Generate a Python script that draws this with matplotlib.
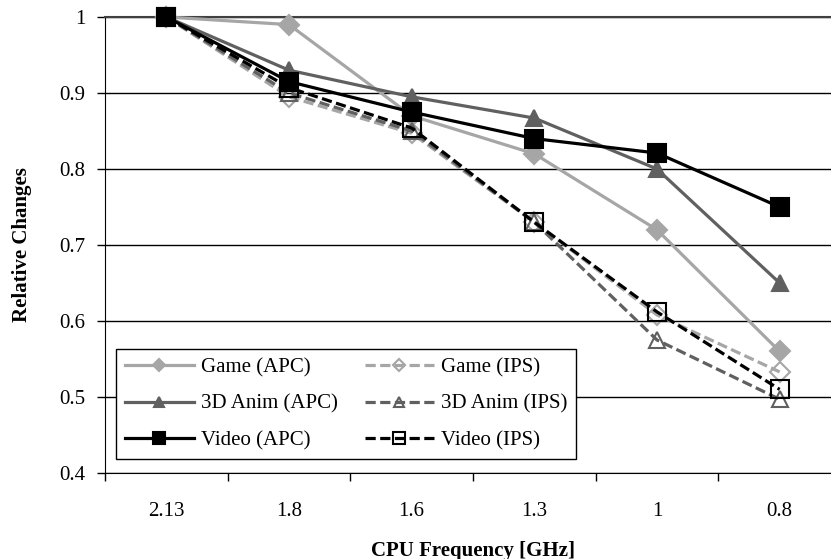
import matplotlib
matplotlib.use('Agg')
import matplotlib.pyplot as plt
import numpy as np

plt.rcParams['font.family'] = ['Liberation Serif', 'DejaVu Serif']

# CPU frequency steps (categorical x axis)
freqs = ['2.13', '1.8', '1.6', '1.3', '1', '0.8']

game_apc = [1.0, 0.99, 0.87, 0.82, 0.72, 0.56]
anim_apc = [1.0, 0.93, 0.895, 0.867, 0.80, 0.65]
video_apc = [1.0, 0.915, 0.875, 0.84, 0.821, 0.75]
game_ips = [1.0, 0.895, 0.847, 0.73, 0.608, 0.533]
anim_ips = [1.0, 0.90, 0.85, 0.73, 0.575, 0.497]
video_ips = [1.0, 0.907, 0.854, 0.73, 0.612, 0.51]

light = '#a6a6a6'
dark = '#606060'
black = '#000000'

fig = plt.figure(figsize=(8.31, 5.59), dpi=100)
ax = fig.add_axes([105 / 831, 86 / 559, 736 / 831, 456 / 559])

x = np.arange(len(freqs))
dash = (3.2, 1.4)

series = [
	(game_apc, 'Game (APC)', light, '-', 'D', 10, light),
	(game_ips, 'Game (IPS)', light, '--', 'D', 10, 'none'),
	(anim_apc, '3D Anim (APC)', dark, '-', '^', 12, dark),
	(anim_ips, '3D Anim (IPS)', dark, '--', '^', 12, 'none'),
	(video_apc, 'Video (APC)', black, '-', 's', 13, black),
	(video_ips, 'Video (IPS)', black, '--', 's', 13, 'none'),
]
handles = {}
for i, (vals, name, col, ls, mk, ms, fc) in enumerate(series):
	line, = ax.plot(x, vals, color=col, lw=2.3, marker=mk, markersize=ms,
					markerfacecolor=fc, markeredgecolor=col, markeredgewidth=1.5,
					clip_on=False, zorder=3 + i)
	if ls == '--':
		line.set_dashes(dash)
	handles[name] = line

ax.set_xlim(-0.5, 5.5)
ax.set_ylim(0.4, 1.0)
ax.set_yticks(np.arange(0.4, 1.01, 0.1))
ax.set_yticklabels(['0.4', '0.5', '0.6', '0.7', '0.8', '0.9', '1'])
ax.set_xticks(x)
ax.set_xticklabels(freqs)
ax.set_xticks(np.arange(-0.5, 5.6, 1), minor=True)
ax.tick_params(axis='x', which='major', length=0, pad=21, labelsize=15)
ax.tick_params(axis='x', which='minor', length=6, width=1, direction='out')
ax.tick_params(axis='y', length=6, width=1, direction='out', pad=8, labelsize=15)

ax.yaxis.grid(True, color='black', lw=1)
ax.set_axisbelow(True)
ax.spines['right'].set_visible(False)
ax.spines['top'].set_color('#404040')
ax.spines['top'].set_linewidth(1.5)

ax.set_xlabel('CPU Frequency [GHz]', fontsize=15, fontweight='bold', labelpad=14)
ax.set_ylabel('Relative Changes', fontsize=15, fontweight='bold', labelpad=20)

order = ['Game (APC)', '3D Anim (APC)', 'Video (APC)', 'Game (IPS)', '3D Anim (IPS)', 'Video (IPS)']
leg = ax.legend([handles[n] for n in order], order, ncol=2, loc='lower left',
				bbox_to_anchor=(0.015, 0.031), borderaxespad=0, fontsize=15, frameon=True,
				fancybox=False, edgecolor='black', framealpha=1, markerscale=0.65,
				handlelength=3.3, handletextpad=0.35, columnspacing=1.3, labelspacing=0.8,
				borderpad=0.42)
leg.get_frame().set_linewidth(1)

fig.savefig('out.png', dpi=100)
